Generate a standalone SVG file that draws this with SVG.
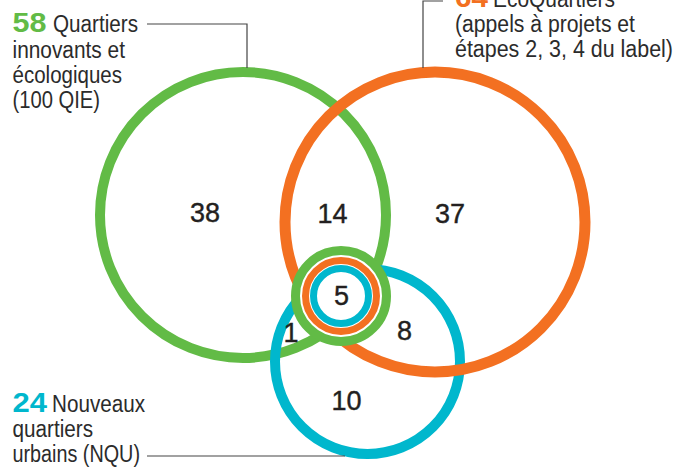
<svg xmlns="http://www.w3.org/2000/svg" width="692" height="468" viewBox="0 0 692 468">
<style>
.ring{fill:none}
.g{stroke:#62bb46}
.o{stroke:#f37021}
.b{stroke:#00b7cd}
.lbl{font-family:"Liberation Sans",Arial,sans-serif;font-size:23px;fill:#2b2b2b}
.big{font-family:"Liberation Sans",Arial,sans-serif;font-size:27px;font-weight:bold}
.num{font-family:"Liberation Sans",Arial,sans-serif;font-size:27px;fill:#231f20;stroke:#231f20;stroke-width:0.4;text-anchor:middle}
.lead{fill:none;stroke:#444;stroke-width:1.2}
</style>
<rect width="692" height="468" fill="#fff"/>
<g id="qie">
<circle class="ring g" cx="243" cy="215" r="143" stroke-width="10"/>
</g>
<g id="nqu">
<circle class="ring b" cx="367.5" cy="361.5" r="92.5" stroke-width="10"/>
</g>
<g id="eco">
<circle class="ring o" cx="435" cy="222" r="150" stroke-width="11"/>
</g>
<g id="center">
<circle cx="341" cy="296" r="45.5" fill="#fff" class="g" stroke-width="9"/>
<circle class="ring o" cx="341" cy="296" r="35.5" stroke-width="7"/>
<circle class="ring b" cx="341" cy="296" r="27.5" stroke-width="7"/>
<text class="num" x="341.5" y="305">5</text>
</g>
<g id="connectors">
<path class="lead" d="M147,24 H247 V68"/>
<path class="lead" d="M443,1 H423 V68"/>
<path class="lead" d="M147,456 H345"/>
</g>
<g id="numbers">
<text class="num" x="205" y="222">38</text>
<text class="num" x="332.5" y="223">14</text>
<text class="num" x="450" y="223">37</text>
<text class="num" x="291" y="342">1</text>
<text class="num" x="404.5" y="340">8</text>
<text class="num" x="346.5" y="410">10</text>
</g>
<g id="label-qie">
<text class="big" x="12.5" y="32" fill="#62bb46" textLength="34" lengthAdjust="spacingAndGlyphs">58</text>
<text class="lbl" x="53" y="32" textLength="85" lengthAdjust="spacingAndGlyphs">Quartiers</text>
<text class="lbl" x="12.5" y="58" textLength="112.5" lengthAdjust="spacingAndGlyphs">innovants et</text>
<text class="lbl" x="12.5" y="83" textLength="109.5" lengthAdjust="spacingAndGlyphs">écologiques</text>
<text class="lbl" x="12.5" y="108" textLength="87.5" lengthAdjust="spacingAndGlyphs">(100 QIE)</text>
</g>
<g id="label-eco">
<text class="big" x="455" y="7" fill="#f37021" textLength="33" lengthAdjust="spacingAndGlyphs">64</text>
<text class="lbl" x="493" y="7" textLength="122" lengthAdjust="spacingAndGlyphs">EcoQuartiers</text>
<text class="lbl" x="455" y="32" textLength="180" lengthAdjust="spacingAndGlyphs">(appels à projets et</text>
<text class="lbl" x="455" y="57" textLength="218" lengthAdjust="spacingAndGlyphs">étapes 2, 3, 4 du label)</text>
</g>
<g id="label-nqu">
<text class="big" x="12.5" y="412" fill="#00b7cd" textLength="34.5" lengthAdjust="spacingAndGlyphs">24</text>
<text class="lbl" x="52" y="412" textLength="93" lengthAdjust="spacingAndGlyphs">Nouveaux</text>
<text class="lbl" x="12.5" y="437" textLength="80.5" lengthAdjust="spacingAndGlyphs">quartiers</text>
<text class="lbl" x="12.5" y="462" textLength="127.5" lengthAdjust="spacingAndGlyphs">urbains (NQU)</text>
</g>
</svg>
